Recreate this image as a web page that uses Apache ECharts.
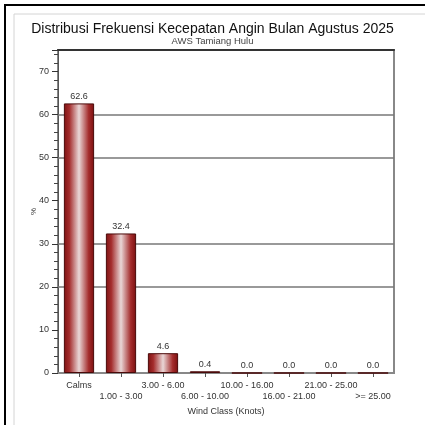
<!DOCTYPE html>
<html>
<head>
    <meta charset="utf-8">
    <title>ECharts</title>
    <script src="https://cdn.jsdelivr.net/npm/echarts@6/dist/echarts.min.js"></script>
    <style>
        body { margin: 0; background: #fff; }
        #chart { width: 425px; height: 425px; }
    </style>
</head>
<body>
<div id="chart"></div>
<script type="text/javascript">
    // kelas angin dan frekuensi (%)
    var windClasses = ['Calms', '1.00 - 3.00', '3.00 - 6.00', '6.00 - 10.00',
        '10.00 - 16.00', '16.00 - 21.00', '21.00 - 25.00', '>= 25.00'];
    var frekuensi = [62.6, 32.4, 4.6, 0.4, 0.0, 0.0, 0.0, 0.0];
    var gridValues = [20, 30, 50, 60];

    var myChart = echarts.init(document.getElementById('chart'));

    var barColor = new echarts.graphic.LinearGradient(0, 0, 1, 0, [
        { offset: 0, color: '#7e1212' },
        { offset: 0.18, color: '#a42c2c' },
        { offset: 0.5, color: '#e9d6d6' },
        { offset: 0.82, color: '#a42c2c' },
        { offset: 1, color: '#7a0f0f' }
    ]);

    myChart.setOption({
        backgroundColor: '#fff',
        animation: false,
        textStyle: { fontFamily: 'Liberation Sans' },
        graphic: [
            {
                type: 'rect',
                shape: { x: 5, y: 5, width: 440, height: 440 },
                style: { fill: null, stroke: '#000', lineWidth: 2 }
            },
            {
                type: 'rect',
                shape: { x: 14, y: 14, width: 430, height: 430 },
                style: { fill: null, stroke: '#d4d4d4', lineWidth: 1 }
            }
        ],
        title: {
            text: 'Distribusi Frekuensi Kecepatan Angin Bulan Agustus 2025',
            subtext: 'AWS Tamiang Hulu',
            left: 'center',
            top: 17,
            itemGap: 0,
            textStyle: { fontSize: 14, fontWeight: 'normal', color: '#111' },
            subtextStyle: { fontSize: 9.5, color: '#444' }
        },
        grid: {
            left: 58,
            right: 31,
            top: 50,
            bottom: 52,
            show: true,
            borderColor: '#888',
            borderWidth: 2
        },
        xAxis: [{
            type: 'category',
            data: windClasses,
            name: 'Wind Class (Knots)',
            nameLocation: 'middle',
            nameGap: 28,
            nameTextStyle: { fontSize: 9, color: '#333' },
            axisLine: { lineStyle: { color: '#888', width: 2 } },
            axisTick: { show: true, alignWithLabel: true, length: 4, lineStyle: { color: '#555' } },
            axisLabel: {
                interval: 0,
                fontSize: 9,
                color: '#333',
                margin: 7,
                lineHeight: 11,
                formatter: function (v, i) { return i % 2 === 1 ? '\n' + v : v; }
            }
        }, {
            type: 'category',
            data: windClasses,
            position: 'top',
            axisLine: { lineStyle: { color: '#333', width: 2 } },
            axisTick: { show: false },
            axisLabel: { show: false }
        }],
        yAxis: {
            type: 'value',
            min: 0,
            max: 75,
            interval: 10,
            name: '%',
            nameLocation: 'middle',
            nameGap: 20,
            nameMoveOverlap: false,
            nameRotate: 90,
            nameTextStyle: { fontSize: 8, color: '#333' },
            axisLine: { show: true, lineStyle: { color: '#555', width: 1 } },
            axisTick: { show: true, length: 6, lineStyle: { color: '#333' } },
            minorTick: { show: true, splitNumber: 5, length: 4, lineStyle: { color: '#444' } },
            axisLabel: { fontSize: 9, color: '#333', margin: 9, showMaxLabel: false },
            splitLine: { show: false }
        },
        series: [{
            type: 'bar',
            data: frekuensi,
            barWidth: '72%',
            itemStyle: { color: barColor, borderColor: '#4a0a0a', borderWidth: 1 },
            label: {
                show: true,
                position: 'top',
                distance: 2,
                fontSize: 9,
                color: '#333',
                formatter: function (p) { return p.value.toFixed(1); }
            },
            markLine: {
                silent: true,
                symbol: 'none',
                z: 1,
                label: { show: false },
                lineStyle: { color: '#777', type: 'solid', width: 1.5 },
                data: gridValues.map(function (v) { return { yAxis: v }; })
            }
        }]
    });
</script>
</body>
</html>
